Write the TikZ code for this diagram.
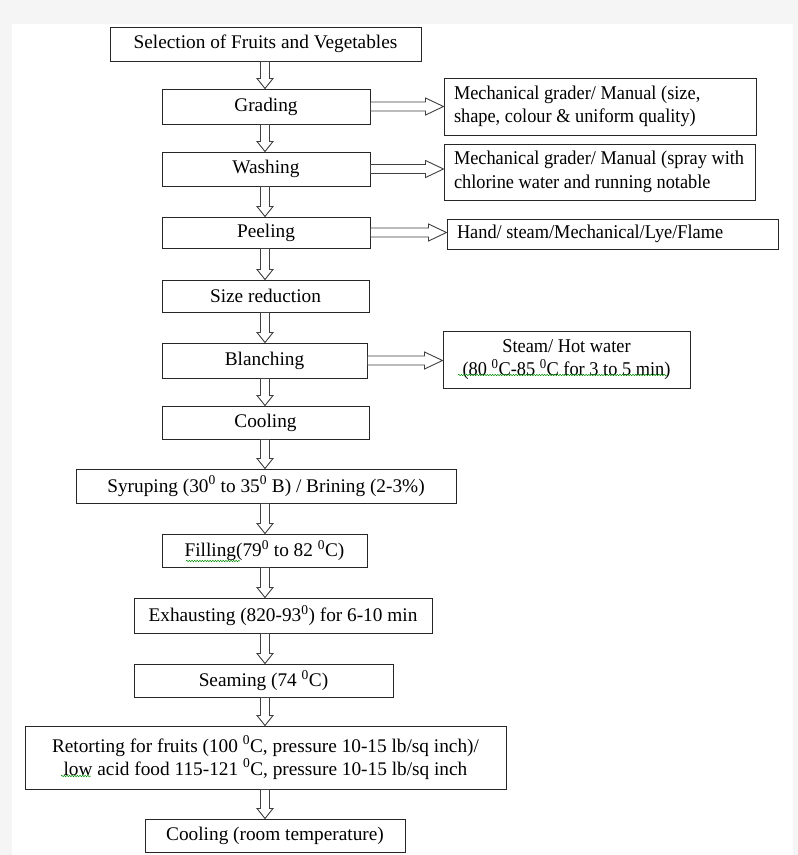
\documentclass[tikz,border=0pt]{standalone}
\usepackage{fontspec}
\setmainfont{Liberation Serif}
\newfontfamily\condserif[FakeStretch=0.94]{Liberation Serif}
\usetikzlibrary{calc,decorations.pathmorphing}
\newcommand\degsup[1]{\textsuperscript{#1}}
\begin{document}
\begin{tikzpicture}[x=1pt,y=-1pt,
  box/.style={draw=black!85, line width=1pt, inner sep=0pt, align=center,
    font=\fontsize{19.3}{23}\selectfont},
  sidebox/.style={draw=black!85, line width=1pt, inner xsep=10pt, inner ysep=0pt,
    align=flush left, font=\condserif\fontsize{19.5}{23.5}\selectfont},
  hollow/.style={draw=black!75, line width=0.9pt, fill=white, line join=miter},
  squig/.style={draw=green!55!black, line width=0.5pt, decorate,
    decoration={snake, amplitude=0.7pt, segment length=2.6pt}}]
\useasboundingbox (0,0) rectangle (798,855);
\fill[black!4] (0,0) rectangle (798,855);
\fill[white] (12,24) rectangle (793,855);

\newcommand\bx[6]{\node[box, minimum width={#4-#2}, minimum height={#5-#3}]
  (#1) at ({(#2+#4)/2},{(#3+#5)/2}) {#6};}
\newcommand\sbx[6]{\node[sidebox, text width={#4-#2-20}, minimum height={#5-#3}]
  (#1) at ({(#2+#4)/2},{(#3+#5)/2}) {#6};}

\bx{sel}{110}{27}{421}{61}{Selection of Fruits and Vegetables}
\bx{grad}{162}{89}{370}{124}{Grading}
\sbx{gradR}{444}{78}{756}{135}{Mechanical grader/ Manual (size,\\shape, colour \& uniform quality)}
\bx{wash}{162}{152}{370}{186}{Washing}
\sbx{washR}{444}{144}{755}{200}{Mechanical grader/ Manual (spray with\\chlorine water and running notable}
\bx{peel}{162}{217}{370}{248}{Peeling}
\sbx{peelR}{447}{219}{778}{249}{Hand/ steam/Mechanical/Lye/Flame}
\bx{size}{162}{280}{369}{312}{Size reduction}
\bx{blanch}{162}{343}{367}{378}{Blanching}
\node[box, font=\condserif\fontsize{19.5}{23.5}\selectfont, minimum width=247, minimum height=57]
  (blanchR) at (566.5,359.5) {Steam/ Hot water\\(80 \degsup{0}C-85 \degsup{0}C for 3 to 5 min)};
\bx{cool}{162}{406}{369}{439}{Cooling}
\bx{syr}{76}{469}{456}{503}{Syruping (30\degsup{0} to 35\degsup{0} B) / Brining (2-3\%)}
\bx{fill}{162}{534}{367}{567}{Filling(79\degsup{0} to 82 \degsup{0}C)}
\bx{exh}{134}{598}{432}{633}{Exhausting (820-93\degsup{0}) for 6-10 min}
\bx{seam}{134}{664}{393}{697}{Seaming (74 \degsup{0}C)}
\bx{ret}{25}{726}{506}{789}{Retorting for fruits (100 \degsup{0}C, pressure 10-15 lb/sq inch)/\\ low acid food 115-121 \degsup{0}C, pressure 10-15 lb/sq inch}
\bx{cool2}{145}{819}{405}{852}{Cooling (room temperature)}

\coordinate (ax) at (265,0);
\newcommand\varr[2]{\draw[hollow] let \p1=(#1.south), \p2=(#2.north), \p3=(ax) in
  (\x3-4.5pt,\y1) -- (\x3+4.5pt,\y1) -- (\x3+4.5pt,\y2+10pt) -- (\x3+8pt,\y2+10pt)
  -- (\x3,\y2) -- (\x3-8pt,\y2+10pt) -- (\x3-4.5pt,\y2+10pt) -- cycle;}
\newcommand\harr[2]{\draw[hollow] let \p1=(#1.east), \p2=(#2.west) in
  (\x1,\y1+4.5pt) -- (\x2-18pt,\y1+4.5pt) -- (\x2-18pt,\y1+8.5pt) -- (\x2,\y1)
  -- (\x2-18pt,\y1-8.5pt) -- (\x2-18pt,\y1-4.5pt) -- (\x1,\y1-4.5pt) -- cycle;}

\varr{sel}{grad}
\varr{grad}{wash}
\varr{wash}{peel}
\varr{peel}{size}
\varr{size}{blanch}
\varr{blanch}{cool}
\varr{cool}{syr}
\varr{syr}{fill}
\varr{fill}{exh}
\varr{exh}{seam}
\varr{seam}{ret}
\varr{ret}{cool2}

\harr{grad}{gradR}
\harr{wash}{washR}
\harr{peel}{peelR}
\harr{blanch}{blanchR}

\draw[squig] (186,561) -- (240,561);
\draw[squig] (61,776) -- (91,776);
\draw[squig] (458,375) -- (667,375);
\end{tikzpicture}
\end{document}
